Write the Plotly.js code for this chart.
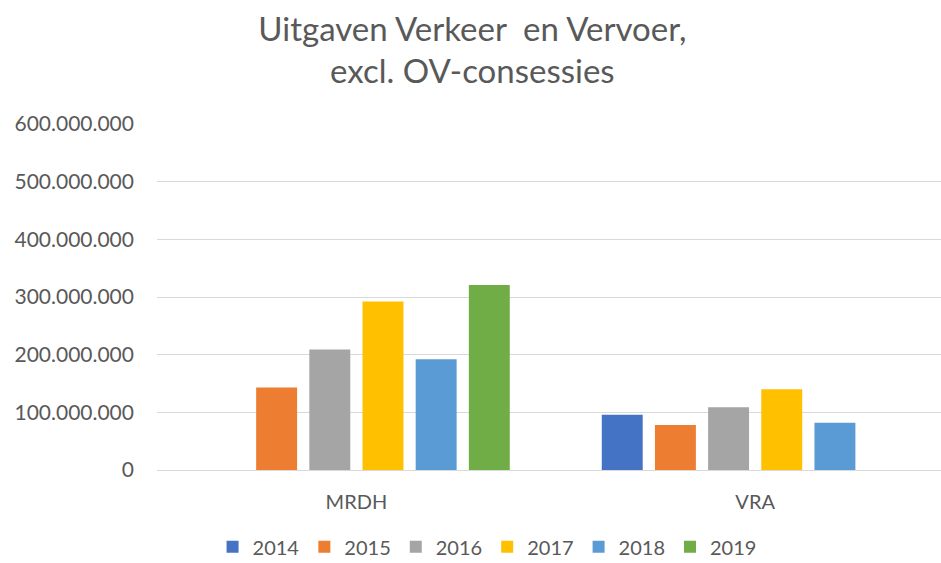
<!DOCTYPE html>
<html>
<head>
<meta charset="utf-8">
<script src="https://cdn.plot.ly/plotly-3.0.1.min.js"></script>
<style>html,body{margin:0;padding:0;background:#fff;}#chart{width:941px;height:563px;}</style>
</head>
<body>
<div id="chart"></div>
<script>
var categories = ["MRDH", "VRA"];
var years = ["2014", "2015", "2016", "2017", "2018", "2019"];
var v2014 = [null, 96000000];
var v2015 = [143000000, 78000000];
var v2016 = [209000000, 109000000];
var v2017 = [292000000, 140000000];
var v2018 = [192000000, 82000000];
var v2019 = [321000000, null];
var colors = ["#4472C4", "#ED7D31", "#A5A5A5", "#FFC000", "#5B9BD5", "#70AD47"];

var series = [v2014, v2015, v2016, v2017, v2018, v2019];
var textColor = "#595959";
var fontFam = "Lato, 'Open Sans', sans-serif";

var traces = series.map(function (vals, i) {
  return {
    type: "bar",
    name: years[i],
    x: categories,
    y: vals,
    marker: { color: colors[i] },
    hoverinfo: "x+y+name"
  };
});

var layout = {
  width: 941,
  height: 563,
  paper_bgcolor: "#ffffff",
  plot_bgcolor: "#ffffff",
  separators: ",.",
  font: { family: fontFam, color: textColor, size: 20 },
  title: {
    text: "Uitgaven Verkeer  en Vervoer,<br>excl. OV-consessies",
    font: { family: fontFam, size: 33, color: textColor },
    x: 0.502,
    xanchor: "center",
    y: 0.928,
    yanchor: "middle",
    yref: "container"
  },
  margin: { l: 157, r: 0, t: 124, b: 93, pad: 0, autoexpand: false },
  barmode: "group",
  bargap: 0.2,
  bargroupgap: 0.23,
  xaxis: {
    type: "category",
    range: [-0.5, 1.466],
    showgrid: false,
    showline: false,
    zeroline: false,
    ticks: "",
    automargin: false,
    tickfont: { family: fontFam, size: 20, color: textColor },
    ticklabelstandoff: 18
  },
  yaxis: {
    range: [0, 600000000],
    dtick: 100000000,
    tick0: 0,
    tickformat: ",d",
    showgrid: true,
    gridcolor: "#D9D9D9",
    gridwidth: 1.3,
    zeroline: true,
    zerolinecolor: "#D9D9D9",
    zerolinewidth: 1.3,
    showline: false,
    ticks: "",
    automargin: false,
    ticklabelstandoff: 22,
    tickfont: { family: fontFam, size: 21, color: textColor }
  },
  showlegend: true,
  legend: {
    orientation: "h",
    x: 0.421,
    xanchor: "center",
    xref: "paper",
    y: -0.222,
    yref: "paper",
    yanchor: "middle",
    font: { family: fontFam, size: 20, color: textColor },
    itemwidth: 30,
    traceorder: "normal"
  }
};

Plotly.newPlot("chart", traces, layout, { displayModeBar: false, responsive: false });
</script>
</body>
</html>
